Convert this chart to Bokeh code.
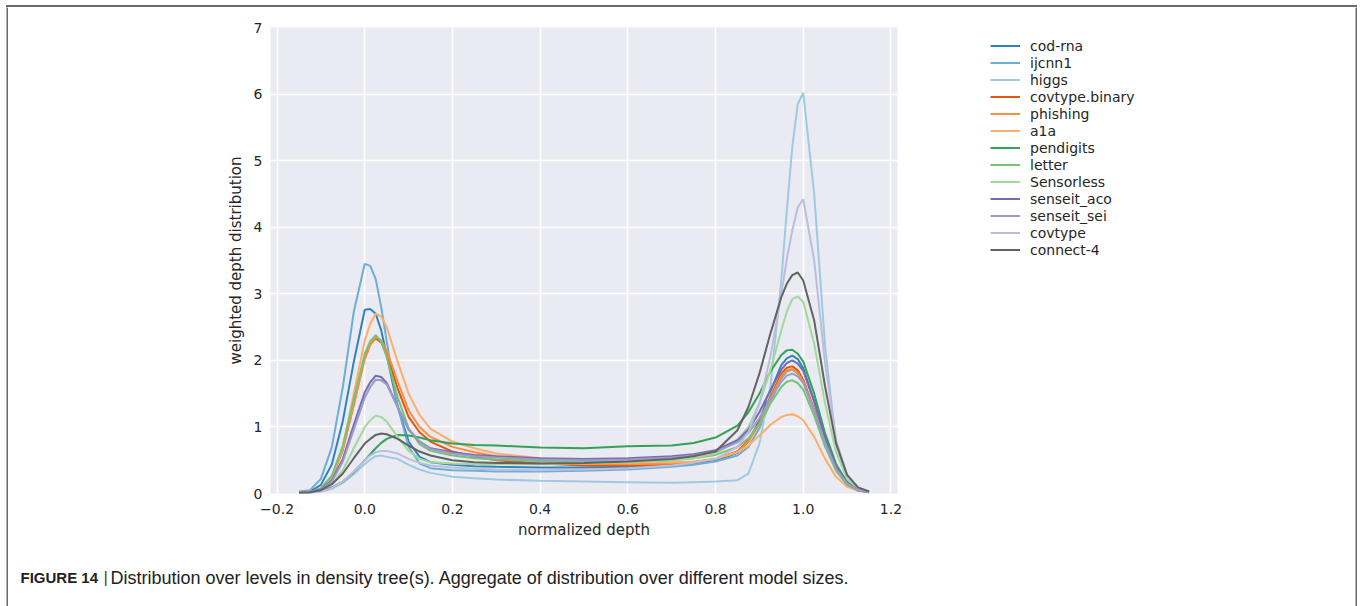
from bokeh.plotting import figure
from bokeh.models import Range1d, FixedTicker, Legend, LegendItem, Label, Spacer, Div
from bokeh.layouts import row, column
from bokeh.embed import file_html
from bokeh.resources import INLINE

# ---------------- data ----------------
depth = [-0.15, -0.125, -0.1, -0.075, -0.05, -0.025, 0.0, 0.0125, 0.025, 0.0375, 0.05, 0.075, 0.1, 0.125, 0.15,
         0.2, 0.25, 0.3, 0.4, 0.5, 0.6, 0.7, 0.75, 0.8,
         0.85, 0.875, 0.9, 0.925, 0.95, 0.9625, 0.975, 0.9875, 1.0, 1.025, 1.05, 1.075, 1.1, 1.125, 1.15]

cod_rna = [0.02, 0.03, 0.13, 0.44, 1.09, 1.98, 2.76, 2.77, 2.70, 2.45, 2.08, 1.31, 0.78, 0.55, 0.47,
           0.43, 0.41, 0.40, 0.39, 0.39, 0.40, 0.43, 0.45, 0.49,
           0.61, 0.78, 1.10, 1.53, 1.93, 2.03, 2.07, 2.02, 1.88, 1.39, 0.84, 0.41, 0.17, 0.06, 0.02]
ijcnn1 = [0.03, 0.05, 0.22, 0.70, 1.60, 2.73, 3.45, 3.42, 3.22, 2.80, 2.29, 1.31, 0.70, 0.45, 0.38,
          0.35, 0.34, 0.33, 0.33, 0.34, 0.36, 0.40, 0.43, 0.48,
          0.57, 0.70, 0.98, 1.37, 1.73, 1.83, 1.86, 1.80, 1.68, 1.24, 0.75, 0.37, 0.15, 0.05, 0.02]
higgs = [0.01, 0.01, 0.03, 0.07, 0.16, 0.29, 0.44, 0.51, 0.56, 0.57, 0.55, 0.52, 0.43, 0.36, 0.31,
         0.25, 0.23, 0.21, 0.19, 0.18, 0.17, 0.16, 0.17, 0.18,
         0.20, 0.30, 0.75, 1.60, 3.20, 4.25, 5.20, 5.85, 6.02, 4.50, 2.20, 0.75, 0.20, 0.06, 0.03]
covtype_binary = [0.02, 0.02, 0.07, 0.24, 0.66, 1.35, 2.06, 2.24, 2.33, 2.27, 2.10, 1.58, 1.15, 0.92, 0.78,
                  0.63, 0.55, 0.50, 0.45, 0.42, 0.42, 0.44, 0.47, 0.52,
                  0.63, 0.80, 1.07, 1.45, 1.80, 1.89, 1.91, 1.85, 1.71, 1.26, 0.75, 0.37, 0.15, 0.05, 0.02]
phishing = [0.02, 0.02, 0.07, 0.24, 0.66, 1.33, 2.02, 2.23, 2.35, 2.30, 2.15, 1.68, 1.25, 1.00, 0.85,
            0.70, 0.62, 0.56, 0.49, 0.45, 0.44, 0.45, 0.47, 0.52,
            0.62, 0.78, 1.04, 1.42, 1.76, 1.85, 1.87, 1.81, 1.68, 1.24, 0.74, 0.36, 0.14, 0.05, 0.02]
a1a = [0.02, 0.02, 0.06, 0.25, 0.70, 1.50, 2.30, 2.55, 2.70, 2.66, 2.50, 1.98, 1.50, 1.18, 0.97,
       0.78, 0.68, 0.60, 0.53, 0.49, 0.47, 0.47, 0.48, 0.52,
       0.62, 0.72, 0.87, 1.03, 1.15, 1.18, 1.19, 1.16, 1.10, 0.85, 0.52, 0.25, 0.10, 0.04, 0.02]
pendigits = [0.01, 0.02, 0.04, 0.09, 0.18, 0.32, 0.50, 0.59, 0.68, 0.76, 0.82, 0.88, 0.87, 0.84, 0.80,
             0.75, 0.73, 0.72, 0.69, 0.68, 0.71, 0.72, 0.76, 0.84,
             1.02, 1.22, 1.50, 1.83, 2.08, 2.15, 2.16, 2.10, 1.98, 1.50, 0.90, 0.44, 0.17, 0.06, 0.02]
letter = [0.02, 0.02, 0.08, 0.27, 0.72, 1.42, 2.10, 2.29, 2.38, 2.28, 2.05, 1.45, 0.98, 0.74, 0.64,
          0.57, 0.53, 0.51, 0.49, 0.48, 0.48, 0.50, 0.53, 0.58,
          0.70, 0.83, 1.05, 1.35, 1.60, 1.68, 1.70, 1.66, 1.56, 1.17, 0.70, 0.34, 0.13, 0.05, 0.02]
sensorless = [0.01, 0.02, 0.05, 0.14, 0.35, 0.68, 1.00, 1.10, 1.17, 1.15, 1.08, 0.85, 0.64, 0.52, 0.47,
              0.45, 0.44, 0.44, 0.44, 0.45, 0.47, 0.50, 0.53, 0.60,
              0.80, 1.00, 1.35, 1.85, 2.45, 2.73, 2.92, 2.96, 2.88, 2.25, 1.35, 0.62, 0.22, 0.07, 0.02]
senseit_aco = [0.01, 0.02, 0.06, 0.20, 0.52, 1.03, 1.52, 1.67, 1.77, 1.75, 1.66, 1.30, 0.96, 0.78, 0.68,
               0.62, 0.58, 0.56, 0.53, 0.52, 0.53, 0.56, 0.59, 0.65,
               0.80, 0.96, 1.22, 1.55, 1.86, 1.96, 2.00, 1.95, 1.84, 1.38, 0.83, 0.40, 0.16, 0.05, 0.02]
senseit_sei = [0.01, 0.02, 0.05, 0.18, 0.48, 0.96, 1.44, 1.60, 1.71, 1.70, 1.64, 1.30, 0.97, 0.78, 0.67,
               0.60, 0.56, 0.54, 0.51, 0.50, 0.51, 0.54, 0.57, 0.63,
               0.77, 0.91, 1.13, 1.42, 1.68, 1.77, 1.80, 1.76, 1.66, 1.25, 0.76, 0.37, 0.15, 0.05, 0.02]
covtype = [0.01, 0.01, 0.03, 0.08, 0.18, 0.33, 0.50, 0.57, 0.62, 0.64, 0.64, 0.60, 0.52, 0.46, 0.42,
           0.39, 0.37, 0.36, 0.35, 0.36, 0.38, 0.42, 0.46, 0.52,
           0.70, 0.92, 1.35, 2.05, 3.00, 3.52, 3.95, 4.30, 4.42, 3.50, 1.95, 0.80, 0.28, 0.08, 0.03]
connect_4 = [0.01, 0.02, 0.05, 0.14, 0.30, 0.53, 0.75, 0.82, 0.88, 0.90, 0.89, 0.82, 0.72, 0.63, 0.57,
             0.50, 0.47, 0.46, 0.45, 0.46, 0.48, 0.52, 0.56, 0.63,
             0.95, 1.30, 1.80, 2.40, 2.95, 3.15, 3.28, 3.32, 3.20, 2.60, 1.60, 0.75, 0.28, 0.09, 0.03]

series_names = ["cod-rna", "ijcnn1", "higgs", "covtype.binary", "phishing", "a1a",
                "pendigits", "letter", "Sensorless", "senseit_aco", "senseit_sei",
                "covtype", "connect-4"]
series_values = [cod_rna, ijcnn1, higgs, covtype_binary, phishing, a1a, pendigits,
                 letter, sensorless, senseit_aco, senseit_sei, covtype, connect_4]
series_colors = ["#3182bd", "#6baed6", "#9ecae1", "#e6550d", "#fd8d3c", "#fdae6b",
                 "#31a354", "#74c476", "#a1d99b", "#756bb1", "#9e9ac8", "#bcbddc", "#636363"]

x_ticks = [-0.2, 0.0, 0.2, 0.4, 0.6, 0.8, 1.0, 1.2]
x_tick_labels = ["\u22120.2", "0.0", "0.2", "0.4", "0.6", "0.8", "1.0", "1.2"]
y_ticks = [0, 1, 2, 3, 4, 5, 6, 7]

caption_bold = "FIGURE 14"
caption_text = "Distribution over levels in density tree(s). Aggregate of distribution over different model sizes."

FRAME_GREY = "#6b6b6b"
MAIN_H = 550


def blank(width, height, color="white", **kw):
    kw.setdefault("min_border", 0)
    f = figure(width=width, height=height, output_backend="svg", toolbar_location=None,
               x_axis_type=None, y_axis_type=None, title=None, **kw)
    f.background_fill_color = color
    f.border_fill_color = color
    f.outline_line_color = None
    return f


# ---------------- main chart ----------------
p = figure(width=909, height=MAIN_H, output_backend="svg", toolbar_location=None,
           x_range=Range1d(-0.215, 1.215), y_range=Range1d(0, 7),
           min_border_left=262, min_border_right=20, min_border_top=20, min_border_bottom=64)
p.background_fill_color = "#EAEAF2"
p.border_fill_color = "white"
p.outline_line_color = None

for g in (p.xgrid, p.ygrid):
    g.grid_line_color = "white"
    g.grid_line_width = 1.5

p.xaxis.ticker = FixedTicker(ticks=x_ticks)
p.xaxis.major_label_overrides = {t: l for t, l in zip(x_ticks, x_tick_labels)}
p.yaxis.ticker = FixedTicker(ticks=y_ticks)
p.xaxis.axis_label = "normalized depth"
p.yaxis.axis_label = "weighted depth distribution"

for ax in (p.xaxis, p.yaxis):
    ax.axis_line_color = None
    ax.major_tick_line_color = None
    ax.minor_tick_line_color = None
    ax.major_tick_in = 0
    ax.major_tick_out = 0
    ax.major_label_text_font = "DejaVu Sans"
    ax.major_label_text_font_size = "14px"
    ax.major_label_text_color = "#262626"
    ax.axis_label_text_font = "DejaVu Sans"
    ax.axis_label_text_font_size = "15px"
    ax.axis_label_text_font_style = "normal"
    ax.axis_label_text_color = "#262626"
p.xaxis.major_label_standoff = 10
p.xaxis.axis_label_standoff = 4
p.yaxis.major_label_standoff = 8
p.yaxis.axis_label_standoff = 6

for name, vals, col in zip(series_names, series_values, series_colors):
    p.line(depth, vals, line_color=col, line_width=2)

# ---------------- legend panel (same top/bottom borders as the chart) ----------------
lf = blank(438, MAIN_H, x_range=Range1d(0, 1), y_range=Range1d(0, 1),
           min_border_left=63, min_border_top=20, min_border_bottom=64)
items = []
for name, col in zip(series_names, series_colors):
    # legend proxy (kept outside the visible range)
    r = lf.line([-10, -9], [-10, -9], line_color=col, line_width=2)
    items.append(LegendItem(label=name, renderers=[r]))
legend = Legend(items=items, location="top_left", glyph_width=30, glyph_height=17,
                label_height=17, spacing=0, padding=0, margin=10, label_standoff=10,
                label_text_font="DejaVu Sans", label_text_font_size="14px",
                label_text_color="#262626", border_line_color=None,
                background_fill_alpha=0)
lf.add_layout(legend)

# ---------------- caption ----------------
cap = blank(1347, 49, x_range=Range1d(0, 1347), y_range=Range1d(49, 0))
cap.add_layout(Label(x=12, y=20, text=caption_bold, text_font="Liberation Sans",
                     text_font_style="bold", text_font_size="15px",
                     text_baseline="middle", text_color="#222222"))
cap.add_layout(Label(x=95, y=20, text="|", text_font="Liberation Sans",
                     text_font_size="17px", text_baseline="middle", text_color="#444444"))
cap.add_layout(Label(x=102, y=20, text=caption_text, text_font="Liberation Sans",
                     text_font_size="18px", text_baseline="middle", text_color="#222222"))

# ---------------- page frame ----------------
top_line = Div(text="", width=1351, height=2, margin=0,
               styles={"background-color": FRAME_GREY})
left_line = blank(2, 599, FRAME_GREY)
right_line = blank(2, 599, FRAME_GREY)

content = column(row(p, lf, spacing=0), cap, spacing=0)
page = column(Spacer(height=5, margin=0),
              row(Spacer(width=6, margin=0), top_line, spacing=0),
              row(Spacer(width=6, margin=0), left_line, content, right_line, spacing=0),
              spacing=0)

open("out.html", "w").write(file_html(page, INLINE))
